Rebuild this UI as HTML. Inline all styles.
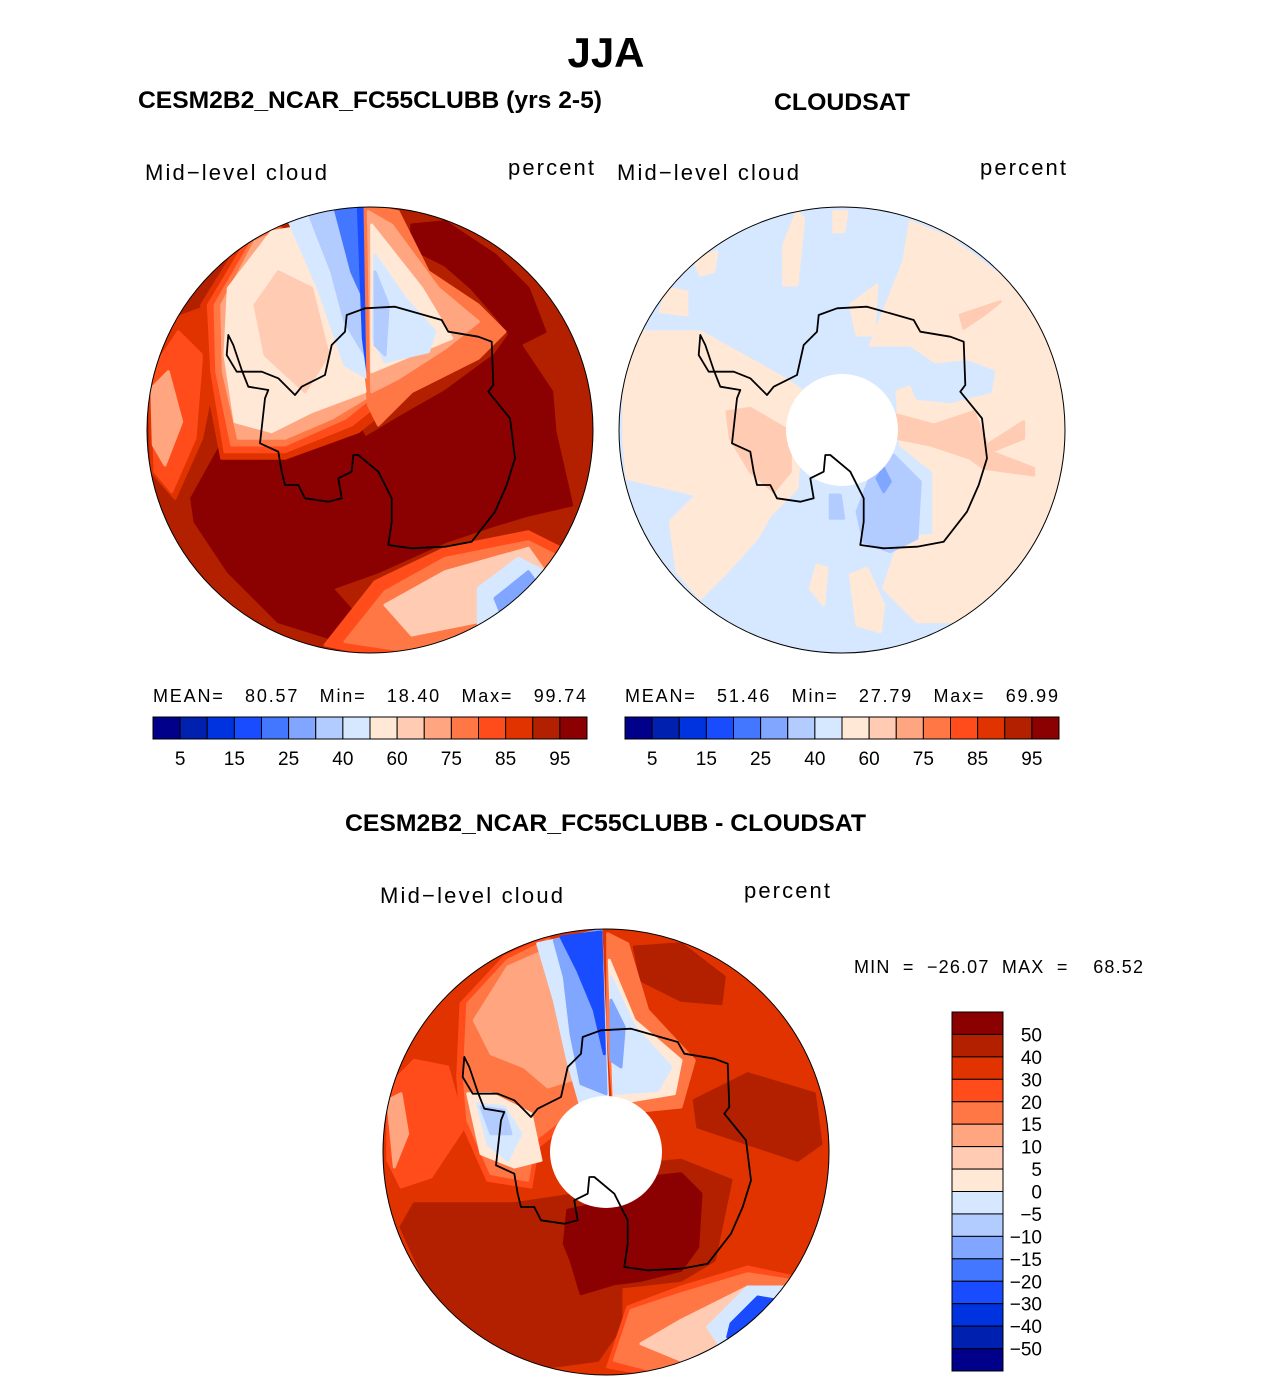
<!DOCTYPE html>
<html><head><meta charset="utf-8">
<style>
body{margin:0;background:#fff;}
svg{display:block;font-family:"Liberation Sans","DejaVu Sans",sans-serif;}
.t{font-weight:bold;}
</style></head>
<body>
<svg id="fig" width="1285" height="1382" viewBox="0 0 1285 1382">
<text x="606" y="67" text-anchor="middle" class="t" font-size="42">JJA</text>
<text x="138" y="108" textLength="464" lengthAdjust="spacingAndGlyphs" class="t" font-size="24">CESM2B2_NCAR_FC55CLUBB (yrs 2-5)</text>
<text x="774" y="110" textLength="136" lengthAdjust="spacingAndGlyphs" class="t" font-size="24">CLOUDSAT</text>
<text x="345" y="831" textLength="521" lengthAdjust="spacingAndGlyphs" class="t" font-size="24">CESM2B2_NCAR_FC55CLUBB - CLOUDSAT</text>

<text x="145" y="180" textLength="182" font-size="22">Mid−level cloud</text>
<text x="508" y="175" textLength="86" font-size="22">percent</text>
<text x="617" y="180" textLength="182" font-size="22">Mid−level cloud</text>
<text x="980" y="175" textLength="86" font-size="22">percent</text>
<text x="380" y="903" textLength="183" font-size="22">Mid−level cloud</text>
<text x="744" y="898" textLength="86" font-size="22">percent</text>

<text x="153" y="702" textLength="433" font-size="18" xml:space="preserve">MEAN=   80.57   Min=   18.40   Max=   99.74</text>
<text x="625" y="702" textLength="433" font-size="18" xml:space="preserve">MEAN=   51.46   Min=   27.79   Max=   69.99</text>
<text x="854" y="973" textLength="289" font-size="18" xml:space="preserve">MIN  =  −26.07  MAX  =    68.52</text>

<defs>
<clipPath id="cc"><circle cx="0" cy="0" r="223"/></clipPath>
</defs>
<g id="map1" transform="translate(370,430)"></g>
<g id="map2" transform="translate(842,430)"></g>
<g id="map3" transform="translate(606,1152)"></g>
<g id="cb1"></g>
<g id="cb2"></g>
<g id="cb3"></g>
</svg>
<script>
const colors=["#00008b","#0020b0","#0033e0","#1a4cff","#4477ff","#80a6ff","#b3ccff","#d6e8ff","#ffe8d6","#ffcbb3","#ffa680","#ff7744","#ff4c1a","#e03300","#b32000","#8b0000"];
const absLabels=["5","15","25","40","60","75","85","95"];
const diffLabels=["50","40","30","20","15","10","5","0","−5","−10","−15","−20","−30","−40","−50"];
const NS="http://www.w3.org/2000/svg";
function mk(tag,attrs,parent){const e=document.createElementNS(NS,tag);for(const k in attrs)e.setAttribute(k,attrs[k]);parent.appendChild(e);return e;}
function pts(a){let s=[];for(let i=0;i<a.length;i+=2)s.push((a[i]/3-225).toFixed(1)+","+(a[i+1]/3-225).toFixed(1));return s.join(" ");}
const coast=[660,310,750,305,890,345,910,380,1000,395,1040,410,1045,540,1030,560,1095,640,1110,760,1085,840,1050,920,980,1010,900,1025,800,1030,730,1020,740,950,740,880,700,800,640,750,625,750,620,800,580,820,590,880,550,890,480,880,460,840,420,840,410,800,400,740,345,715,360,580,370,555,310,545,290,495,265,420,250,390,245,450,275,500,300,500,350,500,400,520,450,570,470,545,540,510,560,420,600,380,605,330];
function drawMap(id,base,blobs,hole,name){
  const g=document.getElementById(id);
  const c=mk('g',{'clip-path':'url(#cc)'},g);
  const b=mk('circle',{cx:0,cy:0,r:223,fill:base},c);
  
  
  blobs.forEach(function(bl){
    const p=mk('polygon',{points:pts(bl[1]),fill:bl[0],'stroke':bl[0],'stroke-width':3,'stroke-linejoin':'round'},c);
    
    
  });
  if(hole){const h=mk('circle',{cx:0,cy:0,r:56,fill:'#fff'},c);
    
    }
  const cl=mk('polygon',{points:pts(coast),fill:'none',stroke:'#000','stroke-width':1.8,'stroke-linejoin':'round'},c);
  
  
  const o=mk('circle',{cx:0,cy:0,r:223,fill:'none',stroke:'#000','stroke-width':1},g);
  
  
}
const C=colors;
drawMap('map1',C[14],[
 [C[15],[150,950,140,880,240,700,420,700,620,620,660,700,760,640,900,560,1050,450,1100,380,1220,560,1230,680,1280,900,1150,930,1050,960,900,1010,700,1100,560,1150,650,1250,560,1300,400,1250,250,1100]],
 [C[15],[800,60,900,50,1050,150,1150,250,1200,380,1120,420,1050,330,980,250,900,180,800,130]],
 [C[13],[10,480,90,340,200,300,210,500,170,700,90,880,20,800]],
 [C[12],[20,500,100,380,170,450,150,700,80,860,30,800]],
 [C[10],[20,550,70,500,110,650,60,780,25,720]],
 [C[13],[170,300,300,90,400,50,660,500,740,600,640,680,420,760,230,760,180,500]],
 [C[12],[190,300,310,100,400,60,660,500,720,580,620,660,420,740,240,740,200,500]],
 [C[11],[210,300,320,110,400,70,650,500,700,560,600,640,420,720,260,720,215,500]],
 [C[10],[230,300,330,110,410,75,650,520,660,580,560,640,420,700,280,700,235,500]],
 [C[8],[250,250,380,80,500,60,560,150,640,400,660,560,500,620,380,680,270,650,240,450]],
 [C[9],[330,300,400,200,500,250,550,450,480,560,360,450]],
 [C[7],[420,20,640,0,670,520,600,480,520,250]],
 [C[6],[490,20,640,5,660,450,600,350,560,200]],
 [C[4],[570,10,650,5,665,300,620,200]],
 [C[3],[640,5,660,5,668,500,655,400]],
 [C[11],[660,0,760,20,850,200,1000,300,1080,380,1000,460,800,560,700,660,670,600]],
 [C[10],[670,20,740,60,880,250,1000,350,900,430,760,520,680,560]],
 [C[8],[680,60,830,250,920,400,800,450,680,500]],
 [C[7],[690,150,780,280,870,380,850,440,720,470,685,400]],
 [C[6],[690,200,730,300,720,450,690,420]],
 [C[12],[540,1320,690,1130,900,1030,1150,980,1270,1040,1150,1220,1000,1310,800,1350,640,1340]],
 [C[11],[600,1310,720,1160,900,1060,1150,1010,1250,1060,1150,1210,1000,1300,800,1340]],
 [C[9],[720,1200,900,1100,1150,1030,1200,1100,1000,1250,800,1290]],
 [C[7],[1000,1150,1120,1060,1200,1100,1100,1220,1000,1260]],
 [C[5],[1050,1180,1150,1100,1180,1140,1070,1230]]
],false,'model-map');

drawMap('map2',C[7],[
 [C[8],[20,380,250,380,500,520,560,560,540,850,460,930,420,1000,330,1100,250,1180,180,1100,160,950,240,870,30,820,20,700]],
 [C[8],[760,420,860,170,880,50,1000,100,1200,250,1330,450,1340,700,1300,1000,1200,1150,1050,1250,900,1250,800,1150,850,1000,950,990,950,800,850,720,840,560,1000,500,880,420]],
 [C[7],[880,530,950,480,1050,470,1130,500,1120,560,1000,590,900,580]],
 [C[8],[500,120,540,20,560,40,540,240,500,240]],
 [C[8],[650,20,690,20,680,80,650,80]],
 [C[8],[700,300,780,240,770,390,720,390]],
 [C[8],[580,1150,600,1080,630,1090,620,1200]],
 [C[8],[700,1110,750,1090,800,1200,790,1280,720,1260]],
 [C[8],[230,160,300,140,290,200,250,210]],
 [C[8],[150,250,210,260,210,330,130,320]],
 [C[9],[330,620,400,610,520,680,520,800,470,860,400,800,340,700]],
 [C[9],[840,630,950,660,1070,620,1110,720,1220,650,1220,700,1120,740,1250,790,1250,810,1100,790,1060,760,940,720,840,700]],
 [C[9],[1030,330,1150,290,1100,330,1040,370]],
 [C[6],[770,790,830,750,910,830,900,1000,820,1040,740,1010,720,920]],
 [C[6],[640,870,670,870,680,940,640,940]],
 [C[5],[780,820,800,790,820,830,800,860]]
],true,'obs-map');

drawMap('map3',C[13],[
 [C[14],[60,900,100,830,400,830,600,800,700,720,900,700,1050,760,1000,1000,900,1060,720,1080,720,1200,650,1300,500,1320,300,1250,150,1100]],
 [C[14],[760,60,900,50,1030,150,1020,230,900,220,780,160]],
 [C[14],[940,520,1100,440,1300,500,1320,650,1250,700,1100,650,950,600]],
 [C[15],[550,950,560,850,650,830,720,760,900,740,960,800,950,960,900,1030,780,1060,700,1070,600,1100,570,1000]],
 [C[12],[20,480,100,400,200,420,250,600,150,750,60,780,20,700]],
 [C[10],[20,520,60,500,80,620,40,720]],
 [C[12],[240,230,370,90,500,30,610,150,650,470,570,580,470,660,450,780,320,760,240,580,230,450]],
 [C[11],[260,230,380,100,500,40,600,150,640,460,560,560,460,640,440,760,330,740,260,580,250,450]],
 [C[10],[280,280,380,120,470,80,560,200,600,450,500,480,430,420,330,380]],
 [C[8],[260,500,330,500,450,560,480,700,400,720,300,680]],
 [C[7],[290,530,370,540,420,620,380,700,320,650]],
 [C[6],[300,540,370,550,390,620,330,620]],
 [C[7],[470,50,660,10,680,520,600,540,560,400,520,220]],
 [C[5],[520,40,660,10,675,500,600,470,570,320,550,150]],
 [C[3],[540,30,660,15,670,380,640,250,590,130]],
 [C[11],[680,20,740,50,800,250,940,400,900,540,700,560,680,300]],
 [C[8],[685,100,760,280,900,400,880,500,700,530]],
 [C[7],[690,150,760,300,870,420,830,490,700,500]],
 [C[5],[690,220,730,300,720,420,690,400]],
 [C[12],[680,1320,740,1140,900,1080,1100,1020,1240,1050,1150,1210,1000,1310,850,1350]],
 [C[11],[700,1300,750,1150,900,1100,1100,1040,1230,1060,1150,1200,1000,1300,850,1340]],
 [C[9],[780,1250,900,1180,1100,1080,1200,1090,1050,1260,900,1300]],
 [C[7],[980,1200,1100,1080,1210,1080,1100,1230,1020,1260]],
 [C[3],[1050,1190,1130,1110,1190,1120,1100,1210,1040,1230]]
],true,'diff-map');

function hbar(id,x0,y0,w,h){
  const g=document.getElementById(id);const n=colors.length;const bw=w/n;
  colors.forEach(function(c,i){
    const r=mk('rect',{x:x0+i*bw,y:y0,width:bw,height:h,fill:c,stroke:'#000','stroke-width':1},g);
    
    
  });
  absLabels.forEach(function(l,j){
    const t=mk('text',{x:x0+(2*j+1)*bw,y:y0+h+26,'text-anchor':'middle','font-size':19},g);
    t.textContent=l;
    
    
  });
}
hbar('cb1',153,717,434,22);
hbar('cb2',625,717,434,22);
(function(){
  const g=document.getElementById('cb3');const x0=952,y0=1012,w=51,h=359;const n=colors.length;const bh=h/n;
  colors.slice().reverse().forEach(function(c,i){
    const r=mk('rect',{x:x0,y:y0+i*bh,width:w,height:bh,fill:c,stroke:'#000','stroke-width':1},g);
    
    
  });
  diffLabels.forEach(function(l,j){
    const t=mk('text',{x:1042,y:y0+(j+1)*bh+7,'text-anchor':'end','font-size':19},g);
    t.textContent=l;
    
    
  });
})();
</script>
</body></html>
